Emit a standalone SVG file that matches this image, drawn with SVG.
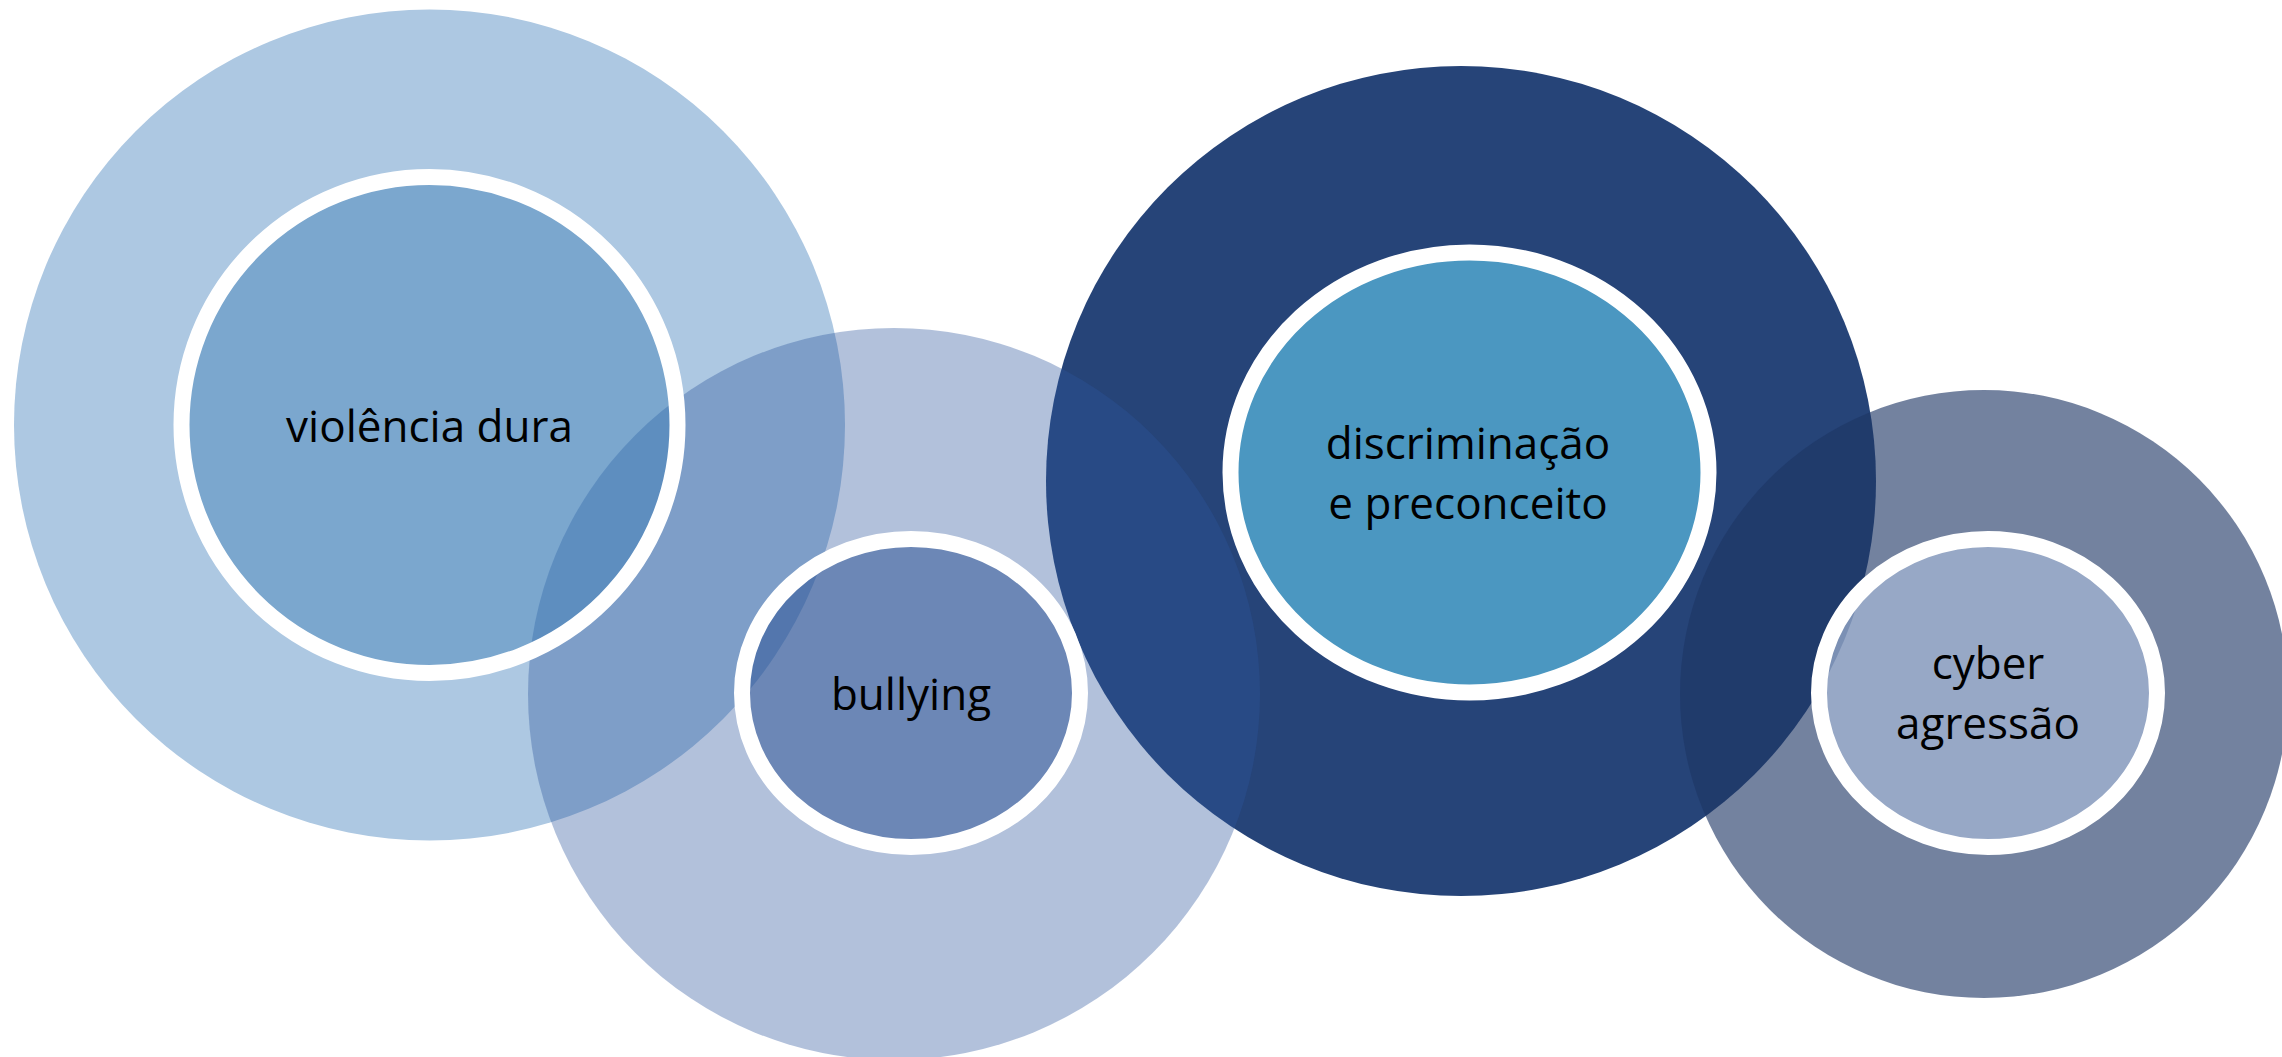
<svg xmlns="http://www.w3.org/2000/svg" width="2282" height="1057" viewBox="0 0 2282 1057">
  <style>
    .ring { stroke: #FFFFFF; stroke-width: 16; }
    .lbl { font-family: "Open Sans", "Noto Sans", "DejaVu Sans", sans-serif; font-size: 44px; fill: #000000; text-anchor: middle; }
  </style>
  <rect x="0" y="0" width="2282" height="1057" fill="#FFFFFF"/>
  <g id="halos">
    <circle id="halo-violencia" cx="429.5" cy="425" r="415.5" fill="#ADC8E2"/>
    <circle id="halo-discriminacao" cx="1461" cy="481" r="415" fill="#264478"/>
    <circle id="halo-cyber" cx="1984" cy="694" r="304" fill="#1D3564" fill-opacity="0.62"/>
    <circle id="halo-bullying" cx="894" cy="694" r="366" fill="#2C559C" fill-opacity="0.365"/>
  </g>
  <g id="connectors"></g>
  <g id="node-violencia">
    <ellipse class="ring" cx="429.5" cy="425" rx="248" ry="248" fill="#3075B2" fill-opacity="0.4"/>
    <text class="lbl" x="429.5" y="442">violência dura</text>
  </g>
  <g id="node-bullying">
    <ellipse class="ring" cx="911" cy="693" rx="169" ry="154" fill="#2D5294" fill-opacity="0.52"/>
    <text class="lbl" x="911" y="710">bullying</text>
  </g>
  <g id="node-discriminacao">
    <ellipse class="ring" cx="1469.5" cy="472.5" rx="239" ry="220" fill="#4B97C1"/>
    <text class="lbl" x="1468" y="459">discriminação</text>
    <text class="lbl" x="1468" y="519">e preconceito</text>
  </g>
  <g id="node-cyber">
    <ellipse class="ring" cx="1988" cy="693" rx="169" ry="154" fill="#AABCDA" fill-opacity="0.66"/>
    <text class="lbl" x="1988" y="679">cyber</text>
    <text class="lbl" x="1988" y="739">agressão</text>
  </g>
</svg>
